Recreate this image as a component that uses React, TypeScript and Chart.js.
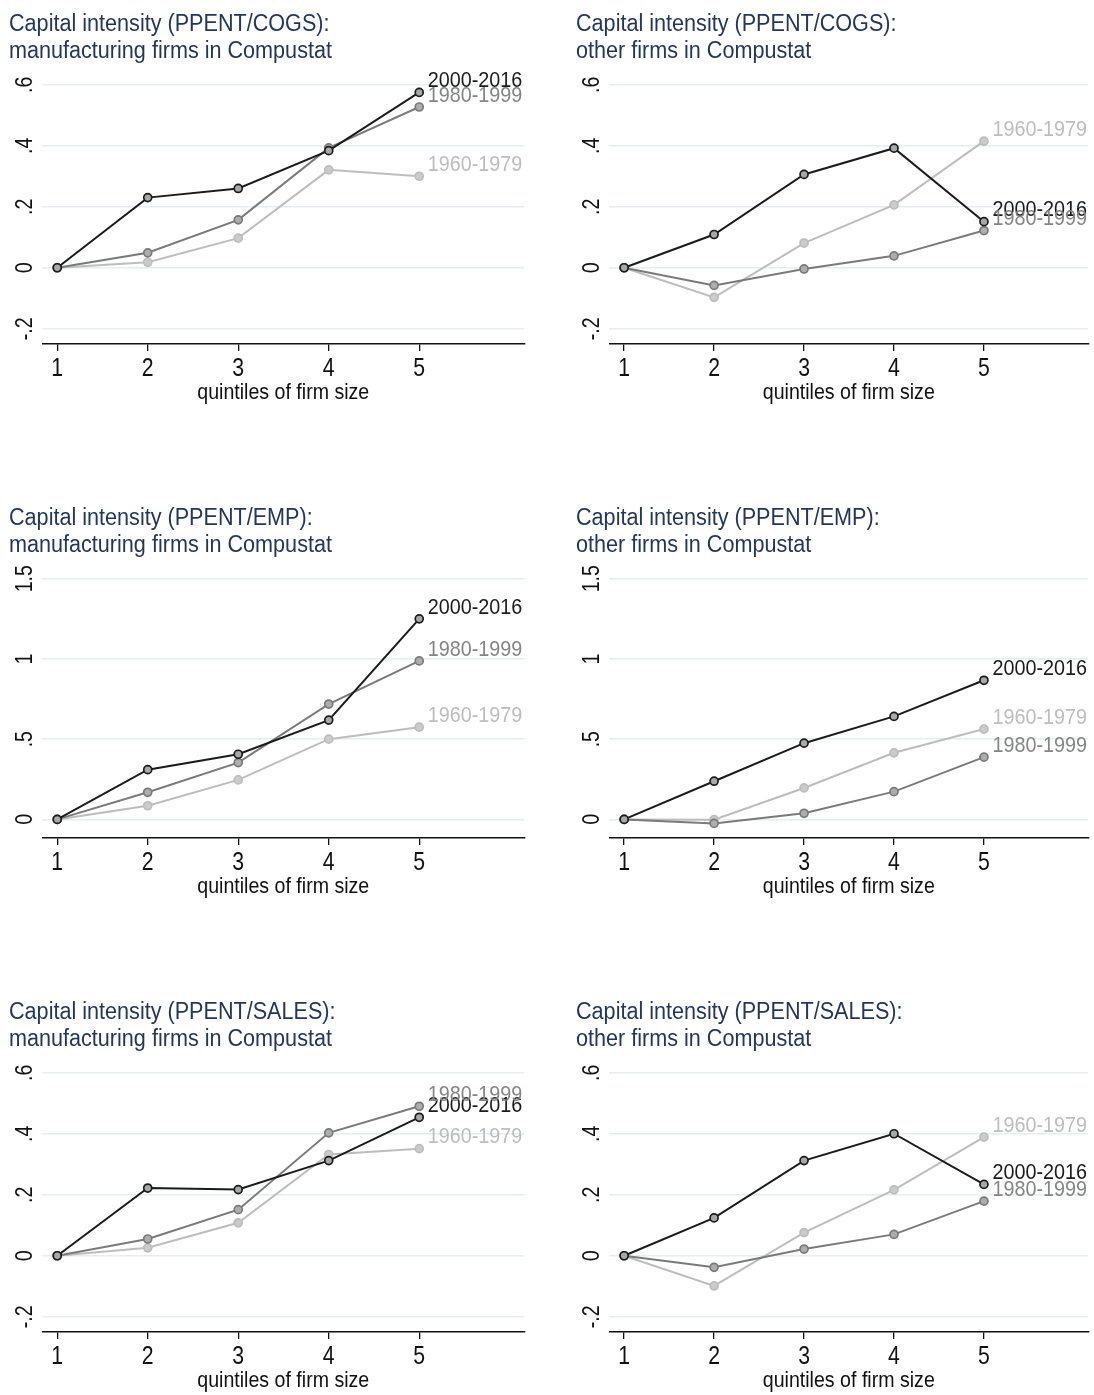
import React, { useEffect, useRef } from "react";
import { Chart, registerables } from "chart.js";

Chart.register(...registerables);

// ---------- data ----------
const quintiles = [1, 2, 3, 4, 5];
const xTickLabels = ["1", "2", "3", "4", "5"];
const periodLabels = ["2000-2016", "1980-1999", "1960-1979"];
const xAxisTitle = "quintiles of firm size";

// PPENT/COGS, manufacturing
const cogsManuf2000 = [0, 0.23, 0.26, 0.384, 0.575];
const cogsManuf1980 = [0, 0.049, 0.157, 0.393, 0.527];
const cogsManuf1960 = [0, 0.018, 0.097, 0.321, 0.3];
// PPENT/COGS, other
const cogsOther2000 = [0, 0.109, 0.306, 0.392, 0.151];
const cogsOther1980 = [0, -0.058, -0.004, 0.039, 0.122];
const cogsOther1960 = [0, -0.097, 0.081, 0.206, 0.415];
// PPENT/EMP, manufacturing
const empManuf2000 = [0, 0.31, 0.406, 0.619, 1.25];
const empManuf1980 = [0, 0.169, 0.354, 0.719, 0.988];
const empManuf1960 = [0, 0.085, 0.246, 0.5, 0.575];
// PPENT/EMP, other
const empOther2000 = [0, 0.238, 0.475, 0.642, 0.867];
const empOther1980 = [0, -0.025, 0.038, 0.173, 0.388];
const empOther1960 = [0, -0.002, 0.196, 0.415, 0.563];
// PPENT/SALES, manufacturing
const salesManuf2000 = [0, 0.222, 0.217, 0.312, 0.454];
const salesManuf1980 = [0, 0.055, 0.151, 0.403, 0.49];
const salesManuf1960 = [0, 0.026, 0.108, 0.332, 0.351];
// PPENT/SALES, other
const salesOther2000 = [0, 0.124, 0.312, 0.4, 0.234];
const salesOther1980 = [0, -0.038, 0.022, 0.07, 0.179];
const salesOther1960 = [0, -0.099, 0.076, 0.216, 0.389];

// y ticks
const ratioTicks = [-0.2, 0, 0.2, 0.4, 0.6];
const ratioTickLabels = ["-.2", "0", ".2", ".4", ".6"];
const empTicks = [0, 0.5, 1, 1.5];
const empTickLabels = ["0", ".5", "1", "1.5"];

// titles
const titleCogsManuf = ["Capital intensity (PPENT/COGS):", "manufacturing firms in Compustat"];
const titleCogsOther = ["Capital intensity (PPENT/COGS):", "other firms in Compustat"];
const titleEmpManuf = ["Capital intensity (PPENT/EMP):", "manufacturing firms in Compustat"];
const titleEmpOther = ["Capital intensity (PPENT/EMP):", "other firms in Compustat"];
const titleSalesManuf = ["Capital intensity (PPENT/SALES):", "manufacturing firms in Compustat"];
const titleSalesOther = ["Capital intensity (PPENT/SALES):", "other firms in Compustat"];

// ---------- styles ----------
const FONT = '"Liberation Sans", Arial, sans-serif';
const NARROW = 0.875; // horizontal squeeze to mimic the narrow Helvetica of the original
const TITLE_COLOR = "#24365a";
const TEXT_COLOR = "#111111";
const seriesStyles = [
  { line: "#1b1b1b", fill: "#a8a8a8", label: "#1b1b1b" },
  { line: "#7a7a7a", fill: "#adadad", label: "#858585" },
  { line: "#bdbdbd", fill: "#cbcbcb", label: "#bdbdbd" },
];

const PANEL_H = 494;
const CHART_TOP = 69.5;
const CHART_BOTTOM = 344;
const Y_AXIS_W = 42.3;
const CHART_RIGHT = 524.2;
const X_MIN = 0.835;
const X_MAX = 6.16;

type PanelDef = {
  left: number;
  top: number;
  width: number;
  title: string[];
  series: number[][];
  ticks: number[];
  tickLabels: string[];
  yMin: number;
  yMax: number;
};

const panels: PanelDef[] = [
  { left: 0, top: 0, width: 547, title: titleCogsManuf, series: [cogsManuf2000, cogsManuf1980, cogsManuf1960], ticks: ratioTicks, tickLabels: ratioTickLabels, yMin: -0.25, yMax: 0.65 },
  { left: 567, top: 0, width: 527, title: titleCogsOther, series: [cogsOther2000, cogsOther1980, cogsOther1960], ticks: ratioTicks, tickLabels: ratioTickLabels, yMin: -0.25, yMax: 0.65 },
  { left: 0, top: 494, width: 547, title: titleEmpManuf, series: [empManuf2000, empManuf1980, empManuf1960], ticks: empTicks, tickLabels: empTickLabels, yMin: -0.116, yMax: 1.595 },
  { left: 567, top: 494, width: 527, title: titleEmpOther, series: [empOther2000, empOther1980, empOther1960], ticks: empTicks, tickLabels: empTickLabels, yMin: -0.116, yMax: 1.595 },
  { left: 0, top: 988, width: 547, title: titleSalesManuf, series: [salesManuf2000, salesManuf1980, salesManuf1960], ticks: ratioTicks, tickLabels: ratioTickLabels, yMin: -0.25, yMax: 0.65 },
  { left: 567, top: 988, width: 527, title: titleSalesOther, series: [salesOther2000, salesOther1980, salesOther1960], ticks: ratioTicks, tickLabels: ratioTickLabels, yMin: -0.25, yMax: 0.65 },
];

function drawText(
  ctx: CanvasRenderingContext2D,
  text: string,
  x: number,
  y: number,
  size: number,
  color: string,
  align: CanvasTextAlign,
  baseline: CanvasTextBaseline,
  sx: number,
  rot = 0
) {
  ctx.save();
  ctx.translate(x, y);
  if (rot) ctx.rotate(rot);
  ctx.scale(sx, 1);
  ctx.font = `${size}px ${FONT}`;
  ctx.fillStyle = color;
  ctx.textAlign = align;
  ctx.textBaseline = baseline;
  ctx.fillText(text, 0, 0);
  ctx.restore();
}

function Panel({ def }: { def: PanelDef }) {
  const ref = useRef<HTMLCanvasElement | null>(null);

  useEffect(() => {
    const canvas = ref.current;
    if (!canvas) return;

    const textPlugin = {
      id: "panelText",
      afterDraw(chart: any) {
        const ctx: CanvasRenderingContext2D = chart.ctx;
        const xs = chart.scales.x;
        const ys = chart.scales.y;
        const area = chart.chartArea;
        // panel title
        def.title.forEach((line, i) =>
          drawText(ctx, line, 9, 31 + i * 26.8, 24.7, TITLE_COLOR, "left", "alphabetic", NARROW)
        );
        // y tick labels, rotated like the original
        def.ticks.forEach((v, i) => {
          const py = ys.getPixelForValue(v);
          drawText(ctx, def.tickLabels[i], 32, py, 24.5, TEXT_COLOR, "center", "alphabetic", 0.8, -Math.PI / 2);
        });
        // x tick labels
        quintiles.forEach((q, i) => {
          const px = xs.getPixelForValue(q);
          drawText(ctx, xTickLabels[i], px, area.bottom + 31.5, 25, TEXT_COLOR, "center", "alphabetic", 0.85);
        });
        // x axis title
        drawText(ctx, xAxisTitle, (area.left + area.right) / 2, area.bottom + 54.5, 22.4, TEXT_COLOR, "center", "alphabetic", NARROW);
        // series end labels
        def.series.forEach((_, i) => {
          const meta = chart.getDatasetMeta(i);
          const pt = meta.data[meta.data.length - 1];
          if (!pt) return;
          drawText(ctx, periodLabels[i], pt.x + 8.5, pt.y - 11.5, 22.6, seriesStyles[i].label, "left", "middle", NARROW);
        });
      },
    };

    const chart = new Chart(canvas, {
      type: "line",
      data: {
        datasets: def.series.map((vals, i) => ({
          label: periodLabels[i],
          data: quintiles.map((q, k) => ({ x: q, y: vals[k] })),
          borderColor: seriesStyles[i].line,
          backgroundColor: seriesStyles[i].fill,
          borderWidth: 2,
          pointRadius: 4,
          pointBorderWidth: 1.7,
          pointBackgroundColor: seriesStyles[i].fill,
          pointBorderColor: seriesStyles[i].line,
          tension: 0,
          fill: false,
        })),
      },
      options: {
        animation: false,
        responsive: false,
        devicePixelRatio: 1,
        layout: { padding: { top: CHART_TOP, left: 0, right: def.width - CHART_RIGHT, bottom: 0 } },
        plugins: {
          legend: { display: false },
          tooltip: { enabled: false },
          title: { display: false },
        },
        scales: {
          x: {
            type: "linear",
            min: X_MIN,
            max: X_MAX,
            afterBuildTicks: (s: any) => {
              s.ticks = quintiles.map((q) => ({ value: q }));
            },
            afterFit: (s: any) => {
              s.height = PANEL_H - CHART_BOTTOM;
            },
            ticks: { display: false, autoSkip: false, maxRotation: 0 },
            grid: { drawOnChartArea: false, drawTicks: true, tickLength: 7, color: TEXT_COLOR, lineWidth: 1.3 },
            border: { display: true, color: TEXT_COLOR, width: 1.5 },
            title: { display: false, text: xAxisTitle },
          },
          y: {
            type: "linear",
            min: def.yMin,
            max: def.yMax,
            afterBuildTicks: (s: any) => {
              s.ticks = def.ticks.map((v) => ({ value: v }));
            },
            afterFit: (s: any) => {
              s.width = Y_AXIS_W;
            },
            ticks: { display: false },
            grid: { drawTicks: false, color: "#e5eef1", lineWidth: 1.6 },
            border: { display: false },
          },
        },
      },
      plugins: [textPlugin],
    } as any);

    return () => chart.destroy();
  }, [def]);

  return (
    <canvas
      ref={ref}
      width={def.width}
      height={PANEL_H}
      style={{ position: "absolute", left: def.left, top: def.top, width: def.width, height: PANEL_H }}
    />
  );
}

export default function App() {
  return (
    <div
      style={{
        position: "absolute",
        left: 0,
        top: 0,
        width: 1094,
        height: 1395,
        overflow: "hidden",
        background: "#fff",
      }}
    >
      {panels.map((p, i) => (
        <Panel key={i} def={p} />
      ))}
    </div>
  );
}
